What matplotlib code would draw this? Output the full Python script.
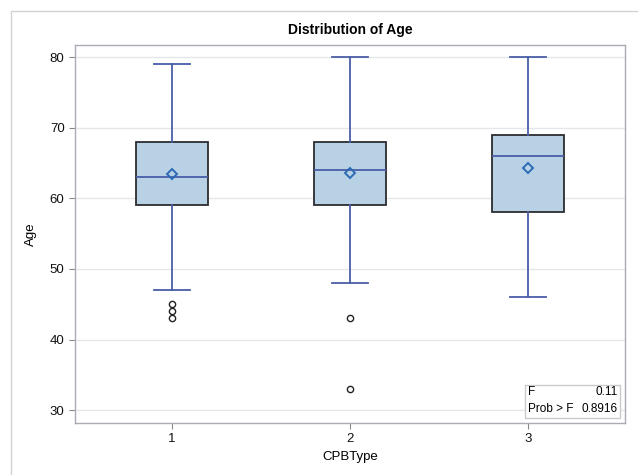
import matplotlib.pyplot as plt
from matplotlib.patches import Rectangle

plt.rcParams['font.family'] = ['Liberation Sans', 'DejaVu Sans']

# values
groups = ["1", "2", "3"]
q1 = [59, 59, 58]
median = [63, 64, 66]
q3 = [68, 68, 69]
whislo = [47, 48, 46]
whishi = [79, 80, 80]
means = [63.4, 63.6, 64.3]
outliers = [[45, 44, 43], [43, 33], []]
yticks = [30, 40, 50, 60, 70, 80]
f_value = "0.11"
p_value = "0.8916"

box_fill = "#b9d1e4"
line_blue = "#4a5ea8"
mean_blue = "#2c6bb5"
grid_col = "#e4e6ea"
frame_col = "#a9adb3"

fig = plt.figure(figsize=(6.38, 4.75), dpi=100)
fig.patches.append(Rectangle((11 / 638, -0.1), 1.2, 1 - 11 / 475 + 0.1,
                             transform=fig.transFigure, fill=False,
                             edgecolor="#d0d2d6", linewidth=1.0))

ax = fig.add_axes([75 / 638, 52 / 475, 550 / 638, 378 / 475])

stats = []
for i in range(len(groups)):
    stats.append(dict(label=groups[i], q1=q1[i], med=median[i], q3=q3[i],
                      whislo=whislo[i], whishi=whishi[i], mean=means[i],
                      fliers=outliers[i]))

pos = list(range(1, len(groups) + 1))
ax.bxp(stats, positions=pos, widths=0.4, patch_artist=True, showmeans=True,
       showcaps=True, capwidths=0.2,
       boxprops=dict(facecolor=box_fill, edgecolor="#2b2d30", linewidth=1.3),
       medianprops=dict(color=line_blue, linewidth=1.3),
       whiskerprops=dict(color=line_blue, linewidth=1.3),
       capprops=dict(color=line_blue, linewidth=1.3),
       meanprops=dict(marker="D", markerfacecolor="none",
                      markeredgecolor=mean_blue, markersize=5.5,
                      markeredgewidth=1.4),
       flierprops=dict(marker="o", markerfacecolor="none",
                       markeredgecolor="#222222", markersize=4.5,
                       markeredgewidth=1.0))

ax.set_xlim(0.455, 3.545)
ax.set_ylim(28.2, 81.7)
ax.set_yticks(yticks)
ax.set_xticks(pos)
ax.set_xticklabels(groups)
ax.yaxis.grid(True, color=grid_col, linewidth=1.0)
ax.set_axisbelow(True)
for s in ax.spines.values():
    s.set_color(frame_col)
    s.set_linewidth(1.0)
ax.tick_params(colors="#888888", labelcolor="#111111", labelsize=9.5, length=4)

ax.set_title("Distribution of Age", fontsize=10, fontweight="bold", pad=8)
ax.set_ylabel("Age", fontsize=9.5, labelpad=9)
ax.set_xlabel("CPBType", fontsize=9.5, labelpad=4)

# stats inset
ax.add_patch(Rectangle((0.818, 0.014), 0.173, 0.086, transform=ax.transAxes,
                       facecolor="white", edgecolor="#c8cacd", linewidth=1.0,
                       zorder=5))
ax.text(0.824, 0.083, "F", transform=ax.transAxes, fontsize=8.5, va="center",
        zorder=6)
ax.text(0.986, 0.083, f_value, transform=ax.transAxes, fontsize=8.5,
        va="center", ha="right", zorder=6)
ax.text(0.824, 0.036, "Prob > F", transform=ax.transAxes, fontsize=8.5,
        va="center", zorder=6)
ax.text(0.986, 0.036, p_value, transform=ax.transAxes, fontsize=8.5,
        va="center", ha="right", zorder=6)

fig.savefig("out.png", dpi=100)
